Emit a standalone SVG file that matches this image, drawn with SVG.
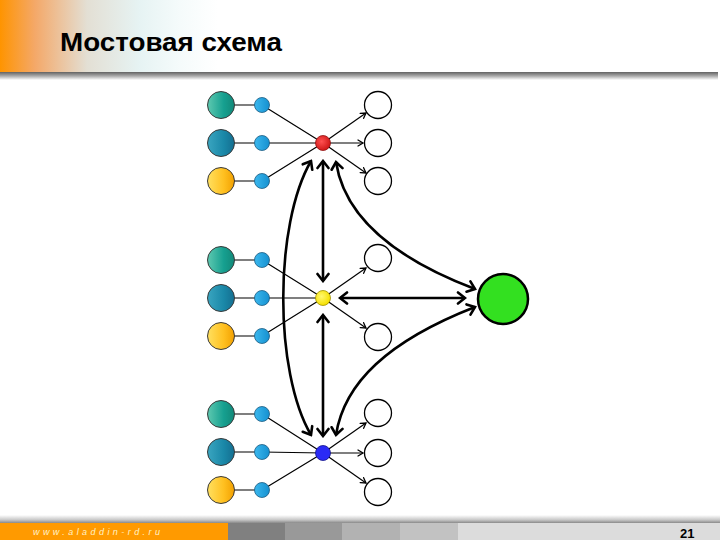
<svg xmlns="http://www.w3.org/2000/svg" width="720" height="540" viewBox="0 0 720 540">
<defs>
<linearGradient id="hdr" x1="0" y1="0" x2="1" y2="0" gradientUnits="objectBoundingBox">
<stop offset="0" stop-color="#ff9400"/>
<stop offset="0.12" stop-color="#f4a868"/>
<stop offset="0.3" stop-color="#e3dfd4"/>
<stop offset="0.48" stop-color="#e6f3f3"/>
<stop offset="0.62" stop-color="#f5fbfb"/>
<stop offset="0.75" stop-color="#ffffff"/>
</linearGradient>
<linearGradient id="hline" x1="0" y1="0" x2="0" y2="1">
<stop offset="0" stop-color="#626262"/>
<stop offset="0.5" stop-color="#aaaaaa"/>
<stop offset="1" stop-color="#ffffff"/>
</linearGradient>
<linearGradient id="fline" x1="0" y1="0" x2="0" y2="1">
<stop offset="0" stop-color="#ffffff"/>
<stop offset="0.6" stop-color="#c8c8c8"/>
<stop offset="1" stop-color="#8a8a8a"/>
</linearGradient>
<linearGradient id="gTeal" x1="0" y1="0" x2="1" y2="0">
<stop offset="0" stop-color="#5ec9b0"/>
<stop offset="0.6" stop-color="#16a090"/>
<stop offset="1" stop-color="#128878"/>
</linearGradient>
<linearGradient id="gPetrol" x1="0" y1="0" x2="1" y2="0">
<stop offset="0" stop-color="#3aa5c0"/>
<stop offset="0.6" stop-color="#1a88a8"/>
<stop offset="1" stop-color="#146e90"/>
</linearGradient>
<linearGradient id="gGold" x1="0" y1="0" x2="1" y2="0">
<stop offset="0" stop-color="#ffe060"/>
<stop offset="0.6" stop-color="#ffc020"/>
<stop offset="1" stop-color="#f2a000"/>
</linearGradient>
<linearGradient id="gSky" x1="0" y1="0" x2="1" y2="0">
<stop offset="0" stop-color="#3bb8ee"/>
<stop offset="1" stop-color="#1590d0"/>
</linearGradient>
<radialGradient id="gRed" cx="0.4" cy="0.4" r="0.6">
<stop offset="0" stop-color="#ff5050"/>
<stop offset="1" stop-color="#d01818"/>
</radialGradient>
<radialGradient id="gYel" cx="0.4" cy="0.4" r="0.6">
<stop offset="0" stop-color="#fff870"/>
<stop offset="1" stop-color="#f5e000"/>
</radialGradient>
<marker id="thick" viewBox="-10 -7 12 14" refX="0" refY="0" markerWidth="12" markerHeight="14" markerUnits="userSpaceOnUse" orient="auto-start-reverse">
<path d="M-7,-5.5 L0,0 L-7,5.5" fill="none" stroke="#000" stroke-width="2.6" stroke-linecap="round" stroke-linejoin="miter"/>
</marker>
<marker id="thin" viewBox="-8 -5 10 10" refX="0" refY="0" markerWidth="10" markerHeight="10" markerUnits="userSpaceOnUse" orient="auto">
<path d="M-5,-3 L0,0 L-5,3" fill="none" stroke="#000" stroke-width="1.3" stroke-linecap="round"/>
</marker>
<style>
.big{stroke:#3a3a3a;stroke-width:1}
.sm{fill:url(#gSky);stroke:#1a5a80;stroke-width:0.8}
.wh{fill:#fff;stroke:#000;stroke-width:1.3}
.tl{stroke:#000;stroke-width:1.2;fill:none}
.ta{stroke:#000;stroke-width:1.2;fill:none;marker-end:url(#thin)}
.bk{stroke:#000;stroke-width:2.6;fill:none;marker-start:url(#thick);marker-end:url(#thick)}
</style>
</defs>
<rect width="720" height="540" fill="#fff"/>
<g id="header">
<rect x="0" y="0" width="290" height="72" fill="url(#hdr)"/>
<rect x="0" y="72" width="718" height="8" fill="url(#hline)"/>
<text x="60" y="51" font-family="Liberation Sans, Arial, sans-serif" font-weight="bold" font-size="25" fill="#000" textLength="222" lengthAdjust="spacingAndGlyphs">Мостовая схема</text>
</g>
<g id="footer">
<rect x="0" y="515" width="720" height="8" fill="url(#fline)"/>
<rect x="0" y="523" width="228" height="17" fill="#ff9a00"/>
<rect x="228" y="523" width="57" height="17" fill="#808080"/>
<rect x="285" y="523" width="57" height="17" fill="#999999"/>
<rect x="342" y="523" width="58" height="17" fill="#b2b2b2"/>
<rect x="400" y="523" width="58" height="17" fill="#c2c2c2"/>
<rect x="458" y="523" width="262" height="17" fill="#dcdcdc"/>
<text x="33" y="535" font-family="Liberation Sans, Arial, sans-serif" font-style="italic" font-size="9" fill="#fff2c8" textLength="127" lengthAdjust="spacing">www.aladdin-rd.ru</text>
<text x="680" y="538" font-family="Liberation Sans, Arial, sans-serif" font-weight="bold" font-size="13" fill="#000">21</text>
</g>
<g id="connectors">
<path class="tl" d="M221,105 H262 M221,143 H262 M221,181 H262"/>
<path class="tl" d="M262,105 L323,143 M262,143 L323,143 M262,181 L323,143"/>
<path class="ta" d="M323,143 L366,113"/>
<path class="ta" d="M323,143 L363,143"/>
<path class="ta" d="M323,143 L366,173"/>
<path class="tl" d="M221,260 H262 M221,298 H262 M221,336 H262"/>
<path class="tl" d="M262,260 L323,298 M262,298 L323,298 M262,336 L323,298"/>
<path class="ta" d="M323,298 L366,268"/>
<path class="ta" d="M323,298 L366,328"/>
<path class="tl" d="M221,414 H262 M221,452 H262 M221,490 H262"/>
<path class="tl" d="M262,414 L323,453 M262,452 L323,453 M262,490 L323,453"/>
<path class="ta" d="M323,453 L366,423"/>
<path class="ta" d="M323,453 L363,453"/>
<path class="ta" d="M323,453 L366,483"/>
<path class="bk" d="M323,161 L323,281"/>
<path class="bk" d="M323,315 L323,436"/>
<path class="bk" d="M340,298 L465,298"/>
<path class="bk" d="M336,162 C344,214 388,256 475,289"/>
<path class="bk" d="M336,435 C344,383 388,341 475,307"/>
<path class="bk" d="M311,161 C274,225 274,372 311,435"/>
</g>
<g id="sources-top">
<circle class="big" cx="221" cy="105" r="13.5" fill="url(#gTeal)"/>
<circle class="big" cx="221" cy="143" r="13.5" fill="url(#gPetrol)"/>
<circle class="big" cx="221" cy="181" r="13.5" fill="url(#gGold)"/>
<circle class="sm" cx="262" cy="105" r="7.5"/>
<circle class="sm" cx="262" cy="143" r="7.5"/>
<circle class="sm" cx="262" cy="181" r="7.5"/>
</g>
<g id="sources-mid">
<circle class="big" cx="221" cy="260" r="13.5" fill="url(#gTeal)"/>
<circle class="big" cx="221" cy="298" r="13.5" fill="url(#gPetrol)"/>
<circle class="big" cx="221" cy="336" r="13.5" fill="url(#gGold)"/>
<circle class="sm" cx="262" cy="260" r="7.5"/>
<circle class="sm" cx="262" cy="298" r="7.5"/>
<circle class="sm" cx="262" cy="336" r="7.5"/>
</g>
<g id="sources-bottom">
<circle class="big" cx="221" cy="414" r="13.5" fill="url(#gTeal)"/>
<circle class="big" cx="221" cy="452" r="13.5" fill="url(#gPetrol)"/>
<circle class="big" cx="221" cy="490" r="13.5" fill="url(#gGold)"/>
<circle class="sm" cx="262" cy="414" r="7.5"/>
<circle class="sm" cx="262" cy="452" r="7.5"/>
<circle class="sm" cx="262" cy="490" r="7.5"/>
</g>
<g id="node-red"><circle cx="323" cy="143" r="7.5" fill="url(#gRed)" stroke="#901010" stroke-width="0.8"/></g>
<g id="node-yellow"><circle cx="323" cy="298" r="7.5" fill="url(#gYel)" stroke="#a09000" stroke-width="0.8"/></g>
<g id="node-blue"><circle cx="323" cy="453" r="7.5" fill="#2a2af5" stroke="#10108a" stroke-width="0.8"/></g>
<g id="node-green"><circle cx="503" cy="299" r="25" fill="#33e020" stroke="#000" stroke-width="2.5"/></g>
<g id="targets-top">
<circle class="wh" cx="378" cy="105" r="13.5"/>
<circle class="wh" cx="378" cy="143" r="13.5"/>
<circle class="wh" cx="378" cy="181" r="13.5"/>
</g>
<g id="targets-mid">
<circle class="wh" cx="378" cy="258" r="13.5"/>
<circle class="wh" cx="378" cy="337" r="13.5"/>
</g>
<g id="targets-bottom">
<circle class="wh" cx="378" cy="413" r="13.5"/>
<circle class="wh" cx="378" cy="453" r="13.5"/>
<circle class="wh" cx="378" cy="492" r="13.5"/>
</g>
</svg>
